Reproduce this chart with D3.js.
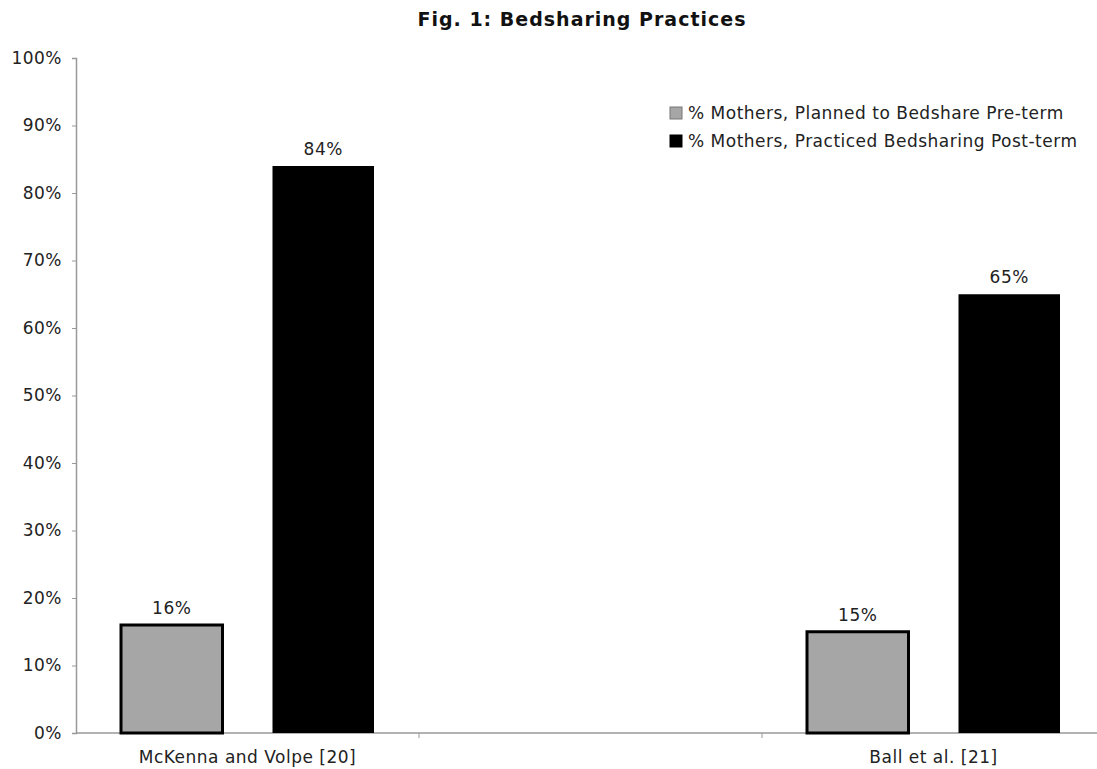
<!DOCTYPE html>
<html>
<head>
<meta charset="utf-8">
<script src="https://cdn.jsdelivr.net/npm/d3@7"></script>
<style>
  body { margin: 0; background: #fff; }
  text { font-family: "DejaVu Sans", Verdana, sans-serif; fill: #222; letter-spacing: 0.5px; }
</style>
</head>
<body>
<div id="chart"></div>
<script>
// data
const categories = ["McKenna and Volpe [20]", "", "Ball et al. [21]"]; // middle slot is empty in the original
const seriesNames = ["% Mothers, Planned to Bedshare Pre-term", "% Mothers, Practiced Bedsharing Post-term"];
const plannedPreTerm = [16, null, 15];
const practicedPostTerm = [84, null, 65];
const yTicks = [0, 10, 20, 30, 40, 50, 60, 70, 80, 90, 100];

let width = 1097, height = 769;
let margin = {top: 58, right: -8, bottom: 36, left: 76};
let innerW = width - margin.left - margin.right;
let innerH = height - margin.top - margin.bottom;

let svg = d3.select("#chart").append("svg")
    .attr("width", width)
    .attr("height", height);

let g = svg.append("g")
    .attr("transform", "translate(" + margin.left + "," + margin.top + ")");

let x = d3.scaleBand()
    .domain(d3.range(categories.length))
    .range([0, innerW]);

let inner = d3.scaleBand()
    .domain([0, 1])
    .range([45, x.bandwidth() - 45])
    .paddingInner(0.33);

let y = d3.scaleLinear()
    .domain([0, 100])
    .range([innerH, 0]);

const colors = ["#a6a6a6", "#000"];

// title
svg.append("text")
    .attr("x", 582)
    .attr("y", 26)
    .attr("text-anchor", "middle")
    .style("font-weight", "bold")
    .style("font-size", "19px")
    .style("letter-spacing", "1px")
    .style("fill", "#111")
    .text("Fig. 1: Bedsharing Practices");

// y axis
let yAxis = g.append("g")
    .call(d3.axisLeft(y).tickValues(yTicks).tickSize(4).tickPadding(10).tickFormat(d => d + "%"));
yAxis.select(".domain").attr("stroke", "#999").attr("stroke-width", 1.5);
yAxis.selectAll(".tick line").attr("stroke", "#999");
yAxis.selectAll(".tick text").style("font-size", "17px").attr("fill", "#222");

// x axis: ticks sit between categories
let xAxisG = g.append("g").attr("transform", "translate(0," + innerH + ")");
xAxisG.append("line")
    .attr("x1", 0).attr("x2", innerW)
    .attr("stroke", "#999").attr("stroke-width", 1.5);
xAxisG.selectAll(".divtick")
    .data(d3.range(1, categories.length))
    .join("line")
    .attr("class", "divtick")
    .attr("x1", d => x(d)).attr("x2", d => x(d))
    .attr("y1", 0).attr("y2", 5)
    .attr("stroke", "#999");
xAxisG.selectAll(".catlabel")
    .data(categories)
    .join("text")
    .attr("class", "catlabel")
    .attr("x", (d, i) => x(i) + x.bandwidth() / 2)
    .attr("y", 30)
    .attr("text-anchor", "middle")
    .style("font-size", "17px")
    .text(d => d);

// bars
let series = [plannedPreTerm, practicedPostTerm];
series.forEach((vals, s) => {
  let pts = vals.map((v, i) => ({i: i, v: v})).filter(d => d.v != null);
  g.selectAll(".bar" + s)
      .data(pts)
      .join("rect")
      .attr("class", "bar" + s)
      .attr("x", d => x(d.i) + inner(s))
      .attr("width", inner.bandwidth())
      .attr("y", d => y(d.v))
      .attr("height", d => innerH - y(d.v))
      .attr("fill", colors[s])
      .attr("stroke", "#000")
      .attr("stroke-width", s === 0 ? 3 : 0);

  g.selectAll(".lab" + s)
      .data(pts)
      .join("text")
      .attr("class", "lab" + s)
      .attr("x", d => x(d.i) + inner(s) + inner.bandwidth() / 2)
      .attr("y", d => y(d.v) - 11)
      .attr("text-anchor", "middle")
      .style("font-size", "17px")
      .text(d => d.v + "%");
});

// legend
let legend = svg.append("g").attr("transform", "translate(670,107)");
seriesNames.forEach((name, s) => {
  let row = legend.append("g").attr("transform", "translate(0," + (s * 28) + ")");
  row.append("rect")
      .attr("width", 12).attr("height", 12)
      .attr("fill", colors[s])
      .attr("stroke", s === 0 ? "#777" : "#000")
      .attr("stroke-width", 1);
  row.append("text")
      .attr("x", 18).attr("y", 12)
      .style("font-size", "17px")
      .text(name);
});
</script>
</body>
</html>
